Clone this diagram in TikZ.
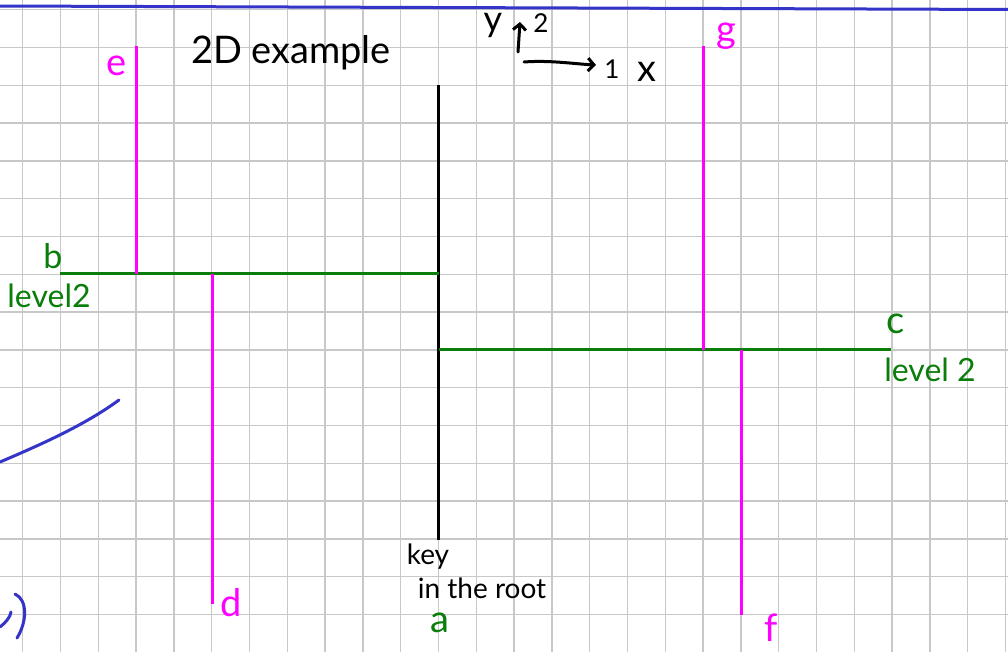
\documentclass[tikz,border=0pt]{standalone}
\usepackage{fontspec}
\setmainfont{Lato}
\usetikzlibrary{arrows.meta}
\definecolor{gridgray}{RGB}{200,200,200}
\definecolor{penblue}{RGB}{52,52,200}
\definecolor{pengreen}{RGB}{10,125,10}
\definecolor{penmag}{RGB}{255,0,255}
\tikzset{
  gridline/.style={gridgray, line width=1.4pt},
  blueink/.style={penblue, line width=3pt, line cap=round},
  blackink/.style={black, line width=3pt},
  greenink/.style={pengreen, line width=3pt},
  magink/.style={penmag, line width=3pt},
  penarrow/.style={black, line width=3pt, line cap=round, -{Straight Barb[length=6pt,width=13pt]}},
  lbl/.style={inner sep=0pt, anchor=center},
}
\begin{document}
\begin{tikzpicture}[x=1pt,y=-1pt]
\useasboundingbox (0,0) rectangle (1008,652);
\fill[white] (0,0) rectangle (1008,652);
% grid
\foreach \k in {0,...,26} { \draw[gridline] ({22.7+37.8*\k},0) -- ({22.7+37.8*\k},652); }
\foreach \k in {0,...,16} { \draw[gridline] (0,{9.7+37.8*\k}) -- (1008,{9.7+37.8*\k}); }
% blue marks
\coordinate (bl1) at (-2,6);
\coordinate (bl2) at (1010,9.5);
\draw[blueink, line cap=butt] (bl1) -- (bl2);
\coordinate (cv1) at (0,462);
\coordinate (cv2) at (119,400);
\draw[blueink] (cv1) .. controls (40,445) and (85,425) .. (cv2);
\coordinate (v1) at (0,627);
\coordinate (v2) at (11,612);
\draw[blueink] (v1) .. controls (5,623) and (10,618) .. (v2);
\coordinate (p1) at (15,594);
\coordinate (p2) at (17,638);
\draw[blueink] (p1) .. controls (28,600) and (27,622) .. (p2);
% root split (black)
\coordinate (rootT) at (438.7,85);
\coordinate (rootB) at (438.7,540);
\draw[blackink] (rootT) -- (rootB);
% level 2 (green)
\coordinate (bL) at (60,273.5);
\coordinate (bR) at (438.7,273.5);
\coordinate (cL) at (438.7,349.7);
\coordinate (cR) at (891,349.7);
\draw[greenink] (bL) -- (bR);
\draw[greenink] (cL) -- (cR);
% level 3 (magenta)
\coordinate (eT) at (136.5,46.5);
\coordinate (eB) at (136.5,273.5);
\coordinate (dT) at (212,273.5);
\coordinate (dB) at (212,603.5);
\coordinate (gT) at (703.5,46.5);
\coordinate (gB) at (703.5,349.7);
\coordinate (fT) at (741,349.7);
\coordinate (fB) at (741,615);
\draw[magink] (eT) -- (eB);
\draw[magink] (dT) -- (dB);
\draw[magink] (gT) -- (gB);
\draw[magink] (fT) -- (fB);
% axes sketch
\coordinate (yB) at (518,52);
\coordinate (yT) at (520,22);
\draw[penarrow] (yB) -- (yT);
\coordinate (xL) at (524,62);
\coordinate (xR) at (596,65);
\draw[penarrow] (xL) .. controls (550,60) and (575,64) .. (xR);
% labels
\node[lbl, font=\fontsize{38}{38}\selectfont] (title) at (291,53) {2D example};
\node[lbl, anchor=north, font=\fontsize{36}{36}\selectfont] (ylab) at (493,13) {y};
\node[lbl, font=\fontsize{26}{26}\selectfont] (ytwo) at (541,23) {2};
\node[lbl, font=\fontsize{26}{26}\selectfont] (xone) at (612,69) {1};
\node[lbl, font=\fontsize{38}{38}\selectfont] (xlab) at (647,72) {x};
\node[lbl, penmag, font=\fontsize{38}{38}\selectfont] (elab) at (117,66) {e};
\node[lbl, penmag, font=\fontsize{38}{38}\selectfont] (glab) at (726,36) {g};
\node[lbl, penmag, font=\fontsize{38}{38}\selectfont] (dlab) at (231,603) {d};
\node[lbl, penmag, font=\fontsize{38}{38}\selectfont] (flab) at (771,628) {f};
\node[lbl, pengreen, font=\fontsize{34}{34}\selectfont] (blab) at (53,256) {b};
\node[lbl, pengreen, font=\fontsize{32}{32}\selectfont] (l2b) at (49,296) {level2};
\node[lbl, pengreen, font=\fontsize{38}{38}\selectfont] (clab) at (896,324) {c};
\node[lbl, pengreen, font=\fontsize{32}{32}\selectfont] (l2c) at (930,370) {level 2};
\node[lbl, pengreen, font=\fontsize{38}{38}\selectfont] (alab) at (440,623) {a};
\node[lbl, font=\fontsize{28}{28}\selectfont] (key) at (428,557) {key};
\node[lbl, font=\fontsize{28}{28}\selectfont] (inroot) at (482,588) {in the root};
\end{tikzpicture}
\end{document}
